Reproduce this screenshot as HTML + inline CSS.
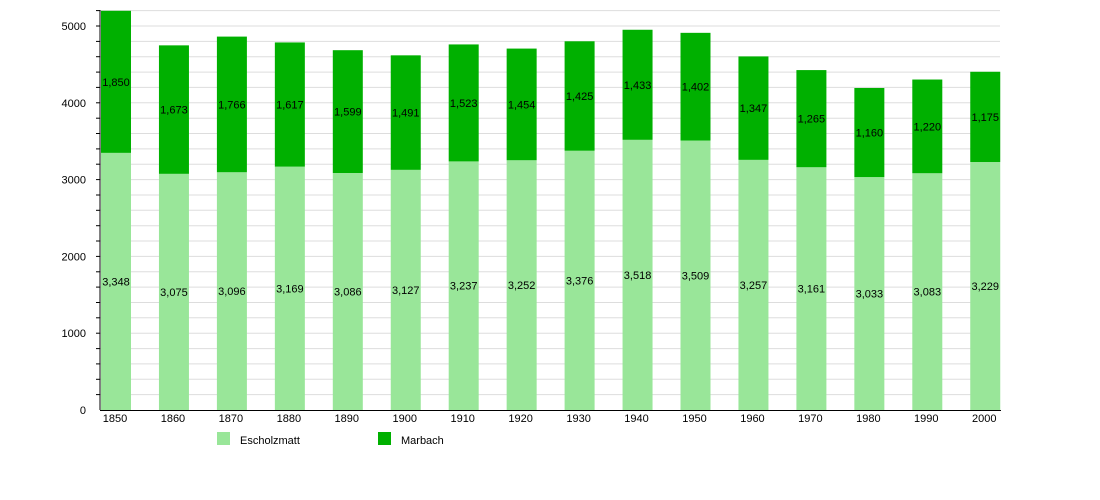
<!DOCTYPE html>
<html><head><meta charset="utf-8"><style>body{margin:0;background:#fff}svg{display:block}text{font-family:"Liberation Sans",sans-serif;font-size:11px;fill:#000}</style></head><body>
<svg width="1100" height="500" xmlns="http://www.w3.org/2000/svg" id="s"></svg>
<script>
const E=[3348,3075,3096,3169,3086,3127,3237,3252,3376,3518,3509,3257,3161,3033,3083,3229];
const M=[1850,1673,1766,1617,1599,1491,1523,1454,1425,1433,1402,1347,1265,1160,1220,1175];
const s=document.getElementById('s');let h='';
const Y=v=>410-v*0.0768;
for(let v=200;v<=5200;v+=200){const y=Y(v).toFixed(1);h+=`<line x1="100" x2="1000" y1="${y}" y2="${y}" stroke="#ddd" stroke-width="1"/><line x1="96" x2="100" y1="${y}" y2="${y}" stroke="#000"/>`;}
for(let v=0;v<=5000;v+=1000){h+=`<text x="86" y="${Y(v)+4}" text-anchor="end">${v}</text>`;}
for(let i=0;i<16;i++){const x=101+57.95*i,e=E[i],m=M[i];
h+=`<rect x="${x}" y="${Y(e)}" width="30" height="${e*0.0768}" fill="#99e699"/>`;
h+=`<rect x="${x}" y="${Y(e+m)}" width="30" height="${m*0.0768}" fill="#00b000"/>`;
const f=n=>n.toLocaleString('en-US');
h+=`<text x="${x+15}" y="${Y(e/2)+4}" text-anchor="middle">${f(e)}</text>`;
h+=`<text x="${x+15}" y="${Y(e+m/2)+4}" text-anchor="middle">${f(m)}</text>`;
h+=`<text x="${x+14}" y="422" text-anchor="middle">${1850+10*i}</text>`;}
h+=`<line x1="100" x2="100" y1="10" y2="410" stroke="#000"/><line x1="100" x2="1001" y1="410.5" y2="410.5" stroke="#000"/>`;
h+=`<rect x="217" y="432" width="13" height="13" fill="#99e699"/><text x="240" y="444">Escholzmatt</text>`;
h+=`<rect x="378" y="432" width="13" height="13" fill="#00b000"/><text x="401" y="444">Marbach</text>`;
s.innerHTML=h;
</script></body></html>
